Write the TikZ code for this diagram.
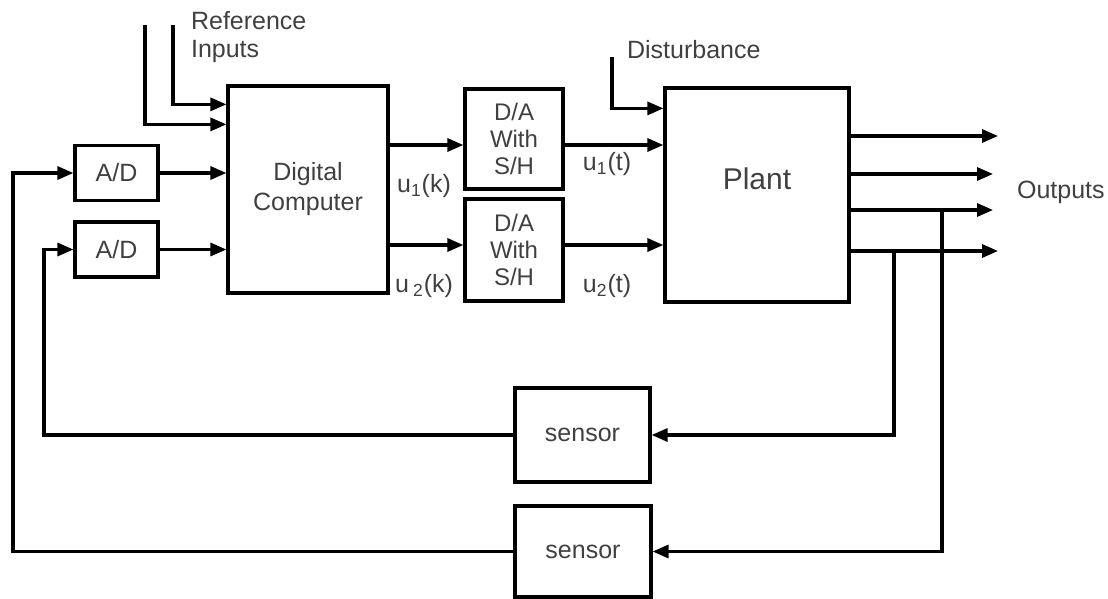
\documentclass[tikz,border=0pt]{standalone}
\usepackage{fontspec}
\setmainfont{Liberation Sans}
\usetikzlibrary{arrows.meta}

\begin{document}
\begin{tikzpicture}[x=0.5pt,y=-0.5pt,
  blk/.style={draw, line width=1.6pt, font=\fontsize{12.5}{15}\selectfont, text=black!75, align=center, inner sep=0pt},
  arr/.style={line width=1.6pt, -{Triangle[length=8pt,width=6.5pt]}},
  lbl/.style={font=\fontsize{12.5}{14}\selectfont, text=black!75}]
\useasboundingbox (0,0) rectangle (1108,599);

\coordinate (ri1) at (145,25);
\coordinate (ri2) at (173,25);
\coordinate (dist) at (612,57);
\coordinate (k1) at (0,145);
\coordinate (k2) at (0,245);
\coordinate (o1) at (998,136);
\coordinate (o2) at (993,174);
\coordinate (o3) at (993,210);
\coordinate (o4) at (998,251);
\coordinate (b1) at (894,251);
\coordinate (b2) at (942,210);
\coordinate (l1) at (44,249.5);
\coordinate (l2) at (13,173);

\node[blk, minimum width=80pt, minimum height=103.5pt] (dc) at (308,189.5) {Digital\\Computer};
\node[blk, minimum width=41.5pt, minimum height=27.5pt] (ad1) at (116.5,173) {A/D};
\node[blk, minimum width=41.5pt, minimum height=27.5pt] (ad2) at (116.5,249.5) {A/D};
\node[blk, minimum width=49pt, minimum height=50pt, font=\fontsize{12}{13.5}\selectfont] (da1) at (514,139) {D/A\\With\\S/H};
\node[blk, minimum width=49pt, minimum height=51pt, font=\fontsize{12}{13.5}\selectfont] (da2) at (514,250) {D/A\\With\\S/H};
\node[blk, minimum width=92pt, minimum height=107pt] (plant) at (757,195) {};
\node[blk, minimum width=67.5pt, minimum height=47pt] (s1) at (582.5,435) {sensor};
\node[blk, minimum width=68pt, minimum height=45.5pt] (s2) at (583,551.5) {sensor};

% inputs
\draw[arr] (ri2) |- ([yshift=-10pt]dc.north west);
\draw[arr] (ri1) |- ([yshift=-20pt]dc.north west);
\draw[arr] (ad1.east) -- (ad1.east -| dc.west);
\draw[arr] (ad2.east) -- (ad2.east -| dc.west);
\draw[arr] (dc.east |- k1) -- (da1.west |- k1);
\draw[arr] (dc.east |- k2) -- (da2.west |- k2);
\draw[arr] (da1.east |- k1) -- (plant.west |- k1);
\draw[arr] (da2.east |- k2) -- (plant.west |- k2);
\draw[arr] (dist) |- ([yshift=-11pt]plant.north west);

% outputs
\draw[arr] (plant.east |- o1) -- (o1);
\draw[arr] (plant.east |- o2) -- (o2);
\draw[arr] (plant.east |- o3) -- (o3);
\draw[arr] (plant.east |- o4) -- (o4);

% feedback
\draw[arr] (b1) |- (s1.east);
\draw[arr] (b2) |- (s2.east);
\draw[arr] (s1.west) -| (l1) -- (ad2.west);
\draw[arr] (s2.west) -| (l2) -- (ad1.west);

\node[lbl, anchor=west, align=left] (refin) at (184,37) {Reference\\Inputs};
\node[lbl, anchor=west] (distlbl) at (620,50) {Disturbance};
\node[lbl] (u1k) at (424,186) {u\textsubscript{1}(k)};
\node[lbl] (u2k) at (424,286) {u\,\textsubscript{2}(k)};
\node[lbl] (u1t) at (607,164) {u\textsubscript{1}(t)};
\node[lbl] (u2t) at (607,286) {u\textsubscript{2}(t)};
\node[lbl, anchor=west] (outlbl) at (1010,192) {Outputs};
\node[lbl, font=\fontsize{15}{18}\selectfont] (plantlbl) at (757,179) {Plant};

\end{tikzpicture}
\end{document}
